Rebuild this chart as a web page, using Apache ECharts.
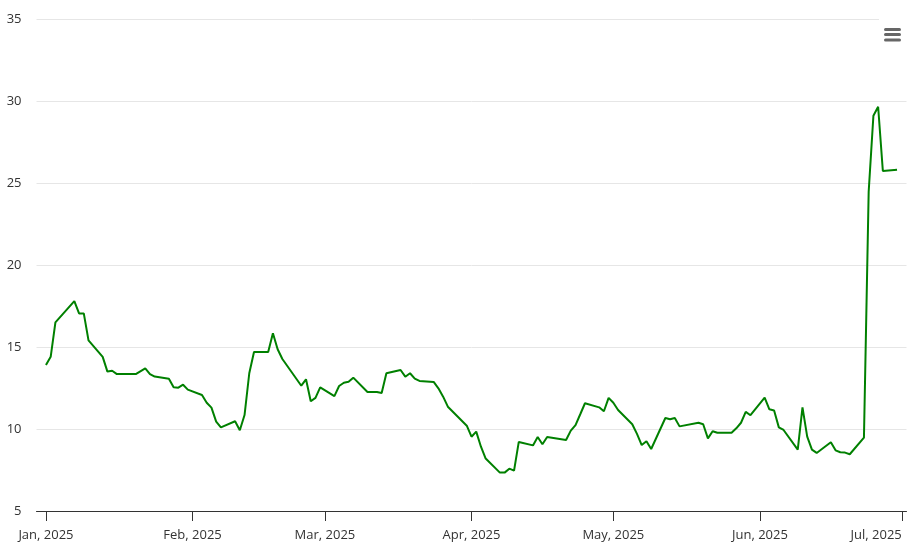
<!DOCTYPE html>
<html>
<head>
<meta charset="utf-8">
<script src="https://cdn.jsdelivr.net/npm/echarts@6/dist/echarts.min.js"></script>
<style>html,body{margin:0;padding:0;background:#fff}#c{width:917px;height:555px}</style>
</head>
<body>
<div id="c"></div>
<script>
const dates = [
 '2025-01-01','2025-01-02','2025-01-03','2025-01-07','2025-01-08','2025-01-09','2025-01-10',
 '2025-01-13','2025-01-14','2025-01-15','2025-01-16','2025-01-20','2025-01-22','2025-01-23','2025-01-24',
 '2025-01-27','2025-01-28','2025-01-29','2025-01-30','2025-01-31',
 '2025-02-03','2025-02-04','2025-02-05','2025-02-06','2025-02-07','2025-02-10','2025-02-11','2025-02-12',
 '2025-02-13','2025-02-14','2025-02-17','2025-02-18','2025-02-19','2025-02-20','2025-02-24','2025-02-25',
 '2025-02-26','2025-02-27','2025-02-28',
 '2025-03-03','2025-03-04','2025-03-05','2025-03-06','2025-03-07','2025-03-10','2025-03-12','2025-03-13',
 '2025-03-14','2025-03-17','2025-03-18','2025-03-19','2025-03-20','2025-03-21','2025-03-24','2025-03-25',
 '2025-03-26','2025-03-27','2025-03-31',
 '2025-04-01','2025-04-02','2025-04-03','2025-04-04','2025-04-07','2025-04-08','2025-04-09','2025-04-10',
 '2025-04-11','2025-04-14','2025-04-15','2025-04-16','2025-04-17','2025-04-21','2025-04-22','2025-04-23',
 '2025-04-24','2025-04-25','2025-04-28','2025-04-29','2025-04-30',
 '2025-05-01','2025-05-02','2025-05-05','2025-05-06','2025-05-07','2025-05-08','2025-05-09','2025-05-12',
 '2025-05-13','2025-05-14','2025-05-15','2025-05-19','2025-05-20','2025-05-21','2025-05-22','2025-05-23',
 '2025-05-26','2025-05-27','2025-05-28','2025-05-29','2025-05-30',
 '2025-06-02','2025-06-03','2025-06-04','2025-06-05','2025-06-06','2025-06-09','2025-06-10','2025-06-11',
 '2025-06-12','2025-06-13','2025-06-16','2025-06-17','2025-06-18','2025-06-19','2025-06-20','2025-06-23',
 '2025-06-24','2025-06-25','2025-06-26','2025-06-27','2025-06-30'
];
const values = [
 13.9,14.4,16.5,17.8,17.05,17.05,15.4,
 14.4,13.5,13.55,13.35,13.35,13.7,13.35,13.2,
 13.07,12.55,12.52,12.7,12.4,
 12.07,11.6,11.3,10.45,10.1,10.47,9.92,10.85,
 13.4,14.7,14.7,15.84,14.86,14.27,12.64,13.03,
 11.69,11.9,12.54,
 12.0,12.62,12.82,12.88,13.13,12.26,12.26,12.2,
 13.4,13.6,13.19,13.4,13.07,12.93,12.87,12.48,
 11.97,11.36,10.2,
 9.53,9.84,8.92,8.2,7.34,7.34,7.58,7.46,
 9.21,9.0,9.51,9.07,9.51,9.33,9.9,10.24,
 10.9,11.57,11.32,11.08,11.9,
 11.6,11.16,10.29,9.7,9.02,9.25,8.78,10.67,
 10.6,10.67,10.16,10.38,10.29,9.43,9.86,9.77,
 9.77,10.04,10.38,11.04,10.84,
 11.91,11.2,11.13,10.1,9.94,8.74,11.32,9.54,
 8.74,8.54,9.19,8.7,8.58,8.56,8.46,9.47,
 24.47,29.1,29.65,25.73,25.81
];
const tickDates = ['2025-01-01','2025-02-01','2025-03-01','2025-04-01','2025-05-01','2025-06-01','2025-07-01'];
const tickLabels = ['Jan, 2025','Feb, 2025','Mar, 2025','Apr, 2025','May, 2025','Jun, 2025','Jul, 2025'];
const yTicks = [5,10,15,20,25,30,35];

// x values are days since 2025-01-01 (UTC)
const DAY = 86400000;
const T0 = Date.parse('2025-01-01T00:00:00Z');
const dayOf = s => Math.round((Date.parse(s + 'T00:00:00Z') - T0) / DAY);
const tickDays = tickDates.map(dayOf);
const labelMap = {};
tickDays.forEach((t,i)=>{labelMap[t]=tickLabels[i];});

const chart = echarts.init(document.getElementById('c'), null, {renderer:'canvas'});
chart.setOption({
  animation: false,
  backgroundColor: '#ffffff',
  grid: {left: 36.5, right: 10.5, top: 19, bottom: 44, containLabel: false, outerBoundsMode: 'none'},
  xAxis: {
    type: 'value',
    min: -2,
    max: 182,
    axisLine: {show: true, lineStyle: {color: '#333333', width: 1}},
    axisTick: {show: true, length: 10, lineStyle: {color: '#333333'}, customValues: tickDays},
    axisLabel: {
      customValues: tickDays,
      color: '#333333', fontSize: 13, fontFamily: 'Open Sans, sans-serif', margin: 18,
      alignMaxLabel: 'right',
      hideOverlap: false,
      formatter: v => labelMap[v] || ''
    },
    splitLine: {show: false}
  },
  yAxis: {
    type: 'value',
    min: 5, max: 35, interval: 5,
    axisLine: {show: false},
    axisTick: {show: false},
    axisLabel: {color: '#333333', fontSize: 13, fontFamily: 'Open Sans, sans-serif', margin: 15,
      customValues: yTicks},
    splitLine: {show: true, lineStyle: {color: '#e6e6e6', width: 1}}
  },
  series: [{
    type: 'line',
    data: dates.map((d,i)=>[dayOf(d), values[i]]),
    showSymbol: false,
    symbol: 'none',
    lineStyle: {color: '#008000', width: 2},
    itemStyle: {color: '#008000'}
  }],
  graphic: [
    {type:'rect', shape:{x:879, y:16, width:28, height:30}, style:{fill:'#ffffff'}, z:100},
    {type:'rect', shape:{x:884, y:28, width:17, height:3, r:1.5}, style:{fill:'#666666'}, z:101},
    {type:'rect', shape:{x:884, y:33, width:17, height:3, r:1.5}, style:{fill:'#666666'}, z:101},
    {type:'rect', shape:{x:884, y:38.5, width:17, height:3, r:1.5}, style:{fill:'#666666'}, z:101}
  ]
});
</script>
</body>
</html>
